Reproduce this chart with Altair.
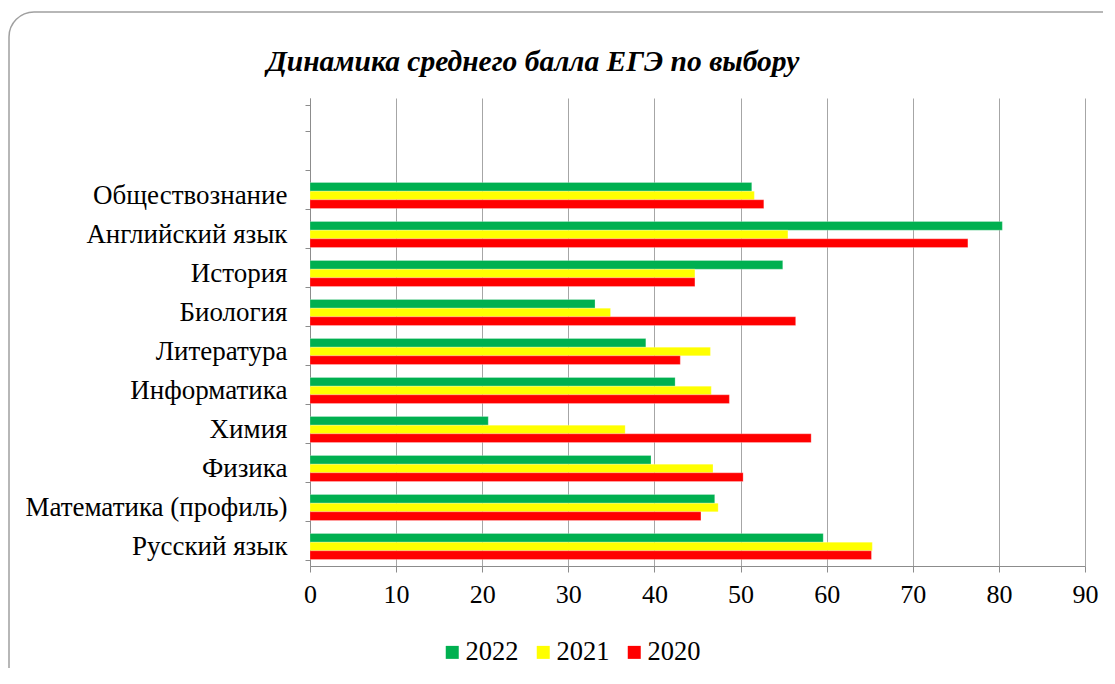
import altair as alt
import pandas as pd

categories = ["Обществознание", "Английский язык", "История", "Биология", "Литература",
              "Информатика", "Химия", "Физика", "Математика (профиль)", "Русский язык"]
blank_slots = [" ", "  "]
years = ["2022", "2021", "2020"]
colors = ["#00B050", "#FFFF00", "#FF0000"]
v2022 = [51.3, 80.4, 54.9, 33.1, 39.0, 42.4, 20.7, 39.6, 47.0, 59.6]
v2021 = [51.6, 55.5, 44.7, 34.9, 46.5, 46.6, 36.6, 46.8, 47.4, 65.3]
v2020 = [52.7, 76.4, 44.7, 56.4, 43.0, 48.7, 58.2, 50.3, 45.4, 65.2]
x_ticks = list(range(0, 100, 10))
title_text = "Динамика среднего балла ЕГЭ по выбору"

rows = []
for yr, vals in zip(years, [v2022, v2021, v2020]):
    for c, v in zip(categories, vals):
        rows.append({"subject": c, "year": yr, "value": v})
df = pd.DataFrame(rows)

FONT = "Liberation Serif"
GRID = "#a6a6a6"

bars = alt.Chart(df).mark_bar(stroke="white", strokeWidth=0.4, strokeOpacity=0.6).encode(
    x=alt.X("value:Q",
            scale=alt.Scale(domain=[0, 90], nice=False),
            axis=alt.Axis(values=x_ticks, title=None, grid=True, gridColor=GRID,
                          domainColor="#8c8c8c", tickColor="#8c8c8c", tickSize=6,
                          labelFont=FONT, labelFontSize=26, labelColor="black",
                          labelPadding=9, labelFlush=False)),
    y=alt.Y("subject:N",
            scale=alt.Scale(domain=blank_slots + categories, paddingInner=1/3, paddingOuter=1/6),
            axis=alt.Axis(title=None, tickBand="extent", grid=False,
                          domainColor="#8c8c8c", tickColor="#8c8c8c", tickSize=5,
                          labelFont=FONT, labelFontSize=27, labelColor="black",
                          labelPadding=18, labelLimit=400)),
    yOffset=alt.YOffset("year:N", sort=years, scale=alt.Scale(paddingInner=0, paddingOuter=0)),
    color=alt.Color("year:N", sort=years,
                    scale=alt.Scale(domain=years, range=colors),
                    legend=alt.Legend(title=None, orient="none", direction="horizontal",
                                      legendX=129, legendY=541, padding=0,
                                      symbolType="square", symbolSize=169, symbolStrokeWidth=0,
                                      labelFont=FONT, labelFontSize=26.5, labelColor="black",
                                      labelOffset=0, columnPadding=11)),
)

border = alt.Chart(alt.Data(values=[{}])).mark_rect(
    cornerRadius=25, fillOpacity=0, stroke="#a0a0a0", strokeWidth=1.5
).encode(
    x=alt.value(-301), x2=alt.value(818), y=alt.value(-86), y2=alt.value(595)
)

title = alt.Chart(alt.Data(values=[{}])).mark_text(
    text=title_text, font=FONT, fontSize=29.5, fontWeight="bold", fontStyle="italic",
    color="black", align="center", baseline="alphabetic"
).encode(x=alt.value(223), y=alt.value(-27))

chart = alt.layer(border, title, bars).properties(
    width=775, height=468,
    autosize=alt.AutoSizeParams(type="none"),
    padding={"left": 302, "top": 90, "right": 18, "bottom": 102},
).configure(font=FONT).configure_view(stroke=None).configure_legend(labelFont=FONT)

chart.save("out.html", embed_options={"renderer": "svg", "actions": False})
